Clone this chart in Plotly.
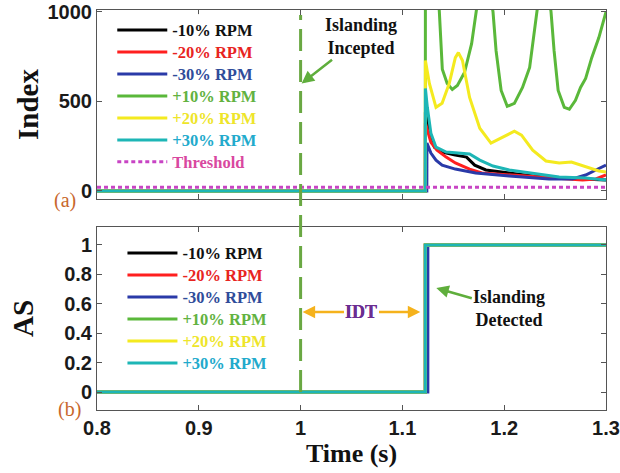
import plotly.graph_objects as go

# ---- (a) detection index after islanding, per rotor-speed change ----
t_m10 = [0.8, 1.1225, 1.1226, 1.1265, 1.1315, 1.139, 1.152, 1.163, 1.171, 1.182, 1.205, 1.228, 1.254, 1.3]
idx_m10 = [0, 0, 439, 322, 244, 217, 200, 189, 144, 117, 100, 83, 72, 61]

t_m20 = [0.8, 1.1225, 1.1226, 1.128, 1.134, 1.143, 1.152, 1.166, 1.178, 1.205, 1.244, 1.277, 1.29, 1.3]
idx_m20 = [0, 0, 378, 272, 228, 189, 156, 122, 100, 89, 72, 61, 67, 89]

t_m30 = [0.8, 1.124, 1.1241, 1.128, 1.133, 1.139, 1.152, 1.172, 1.205, 1.244, 1.267, 1.28, 1.29, 1.3]
idx_m30 = [0, 0, 267, 211, 172, 144, 122, 100, 83, 67, 67, 89, 117, 144]

t_p10 = [0.8, 1.1225, 1.1226, 1.133, 1.1363, 1.1392, 1.144, 1.149, 1.154, 1.161, 1.168, 1.172,
         1.180, 1.189, 1.192, 1.197, 1.203, 1.21, 1.218, 1.225, 1.229, 1.232, 1.239, 1.246,
         1.249, 1.253, 1.259, 1.264, 1.27, 1.275, 1.28, 1.286, 1.293, 1.3]
idx_p10 = [0, 0, 1300, 1300, 1000, 680, 600, 567, 589, 661, 822, 1000,
           1300, 1000, 783, 561, 472, 489, 578, 689, 878, 1000, 1300, 1000,
           783, 561, 467, 456, 506, 578, 628, 744, 856, 1000]

t_p20 = [0.8, 1.1225, 1.1226, 1.1265, 1.133, 1.139, 1.146, 1.152, 1.155, 1.159, 1.166, 1.176,
         1.187, 1.198, 1.21, 1.217, 1.228, 1.241, 1.254, 1.266, 1.28, 1.293, 1.3]
idx_p20 = [0, 0, 728, 600, 467, 489, 600, 744, 772, 728, 522, 350,
           267, 300, 333, 311, 228, 167, 156, 161, 133, 111, 106]

t_p30 = [0.8, 1.1225, 1.1226, 1.1245, 1.128, 1.133, 1.143, 1.156, 1.166, 1.176, 1.189, 1.205,
         1.228, 1.254, 1.28, 1.3]
idx_p30 = [0, 0, 572, 467, 322, 244, 217, 211, 206, 172, 139, 117, 100, 78, 72, 61]

t_thr = [0.8, 1.3]
thr = [20, 20]

# ---- (b) islanding status signal ----
t_as = [0.8, 1.1225, 1.1225, 1.3]
t_as_m30 = [0.8, 1.125, 1.125, 1.3]
as_val = [0, 0, 1, 1]

labels = ["-10% RPM", "-20% RPM", "-30% RPM", "+10% RPM", "+20% RPM", "+30% RPM"]
line_colors = ["#000000", "#ff1f1f", "#2a3aa8", "#5ab83a", "#f4ea1f", "#1db6b6"]
text_colors = ["#111111", "#e8241f", "#2f4c9a", "#62b240", "#eee52a", "#22aacc"]

x_ticks = [0.8, 0.9, 1.0, 1.1, 1.2, 1.3]
x_ticktext = ["0.8", "0.9", "1", "1.1", "1.2", "1.3"]
y1_ticks = [0, 500, 1000]
y2_ticks = [0, 0.2, 0.4, 0.6, 0.8, 1]
y2_ticktext = ["0", "0.2", "0.4", "0.6", "0.8", "1"]

serif = "Liberation Serif, 'Times New Roman', Times, serif"
sans = "Liberation Sans, Arial, sans-serif"

top_t = [t_m10, t_m20, t_m30, t_p10, t_p20, t_p30]
top_v = [idx_m10, idx_m20, idx_m30, idx_p10, idx_p20, idx_p30]
bot_t = [t_as, t_as, t_as_m30, t_as, t_as, t_as]


def colored(name, color):
    # legend rows are spaced by the legend font; the label itself is drawn larger
    return f"<span style='color:{color};font-size:16.5px'><b>{name}</b></span>"


fig = go.Figure()

for i in range(6):
    fig.add_trace(go.Scatter(
        x=top_t[i], y=top_v[i], mode="lines",
        line=dict(color=line_colors[i], width=3),
        name=colored(labels[i], text_colors[i]),
        xaxis="x", yaxis="y", legend="legend"))

fig.add_trace(go.Scatter(
    x=t_thr, y=thr, mode="lines",
    line=dict(color="#c844c4", width=3, dash="4px,3px"),
    name=colored("Threshold", "#d9489f"),
    xaxis="x", yaxis="y", legend="legend"))

for i in range(6):
    fig.add_trace(go.Scatter(
        x=bot_t[i], y=as_val, mode="lines",
        line=dict(color=line_colors[i], width=3),
        name=colored(labels[i], text_colors[i]),
        xaxis="x2", yaxis="y2", legend="legend2"))

axis_common = dict(
    showline=True, linecolor="#555555", linewidth=1, mirror="ticks",
    ticks="inside", ticklen=5, tickcolor="#555555",
    showgrid=False, zeroline=False, automargin=False,
    tickfont=dict(family=sans, size=20, color="#1a1a1a", weight="bold"),
)

legend_common = dict(
    bgcolor="rgba(255,255,255,0.9)", borderwidth=0,
    font=dict(family=serif, size=14.6),
    itemwidth=50, xanchor="left", yanchor="top",
    itemclick=False, itemdoubleclick=False,
)

green_arrow = "#5fae3c"
orange_arrow = "#f5b21c"

fig.update_layout(
    width=620, height=473,
    margin=dict(l=97, r=14, t=10, b=63),
    plot_bgcolor="white", paper_bgcolor="white",
    showlegend=True,
    xaxis=dict(domain=[0, 1], anchor="y", range=[0.8, 1.3],
               tickvals=x_ticks, showticklabels=False, **axis_common),
    yaxis=dict(domain=[0.5275, 1], anchor="x", range=[-45, 1010],
               tickvals=y1_ticks,
               title=dict(text="<b>Index</b>", standoff=0,
                          font=dict(family=serif, size=29, color="#111111")),
               **axis_common),
    xaxis2=dict(domain=[0, 1], anchor="y2", range=[0.8, 1.3],
                tickvals=x_ticks, ticktext=x_ticktext,
                title=dict(text="<b>Time (s)</b>", standoff=2,
                           font=dict(family=serif, size=26, color="#111111")),
                **axis_common),
    yaxis2=dict(domain=[0, 0.4575], anchor="x2", range=[-0.122, 1.122],
                tickvals=y2_ticks, ticktext=y2_ticktext,
                title=dict(text="<b>AS</b>", standoff=22,
                           font=dict(family=serif, size=29, color="#111111")),
                **axis_common),
    legend=dict(x=0.03, y=0.99, **legend_common),
    legend2=dict(x=0.05, y=0.4325, **legend_common),
    shapes=[dict(type="line", xref="x", yref="paper",
                 x0=1.0, x1=1.0, y0=0.045, y1=0.9875, layer="above",
                 line=dict(color="#6aa843", width=3, dash="22px,9px"))],
    annotations=[
        dict(text="<b>Islanding<br>Incepted</b>", xref="x", yref="y",
             x=1.001, y=600, axref="x", ayref="y", ax=1.0598, ay=861,
             showarrow=True, arrowhead=2, arrowsize=1, arrowwidth=2.5,
             arrowcolor=green_arrow,
             font=dict(family=serif, size=18, color="#111111")),
        dict(text="<b>Islanding<br>Detected</b>", xref="x2", yref="y2",
             x=1.1333, y=0.707, axref="x2", ayref="y2", ax=1.205, ay=0.565,
             showarrow=True, arrowhead=2, arrowsize=1, arrowwidth=2.5,
             arrowcolor=green_arrow,
             font=dict(family=serif, size=18, color="#111111")),
        dict(text="<b>IDT</b>", xref="x2", yref="y2",
             x=1.002, y=0.544, axref="x2", ayref="y2", ax=1.0598, ay=0.544,
             showarrow=True, arrowhead=2, arrowsize=1, arrowwidth=2.5,
             arrowcolor=orange_arrow,
             font=dict(family=serif, size=18, color="#6b2d91")),
        dict(text="<b>IDT</b>", xref="x2", yref="y2",
             x=1.1176, y=0.544, axref="x2", ayref="y2", ax=1.0598, ay=0.544,
             showarrow=True, arrowhead=2, arrowsize=1, arrowwidth=2.5,
             arrowcolor=orange_arrow,
             font=dict(family=serif, size=18, color="#6b2d91")),
        dict(text="(a)", xref="paper", yref="paper", x=-0.088, y=0.525,
             showarrow=False, font=dict(family=serif, size=20, color="#c8672c")),
        dict(text="(b)", xref="paper", yref="paper", x=-0.08, y=-0.0325,
             showarrow=False, font=dict(family=serif, size=20, color="#c8672c")),
    ],
)

fig.write_html("out.html")
